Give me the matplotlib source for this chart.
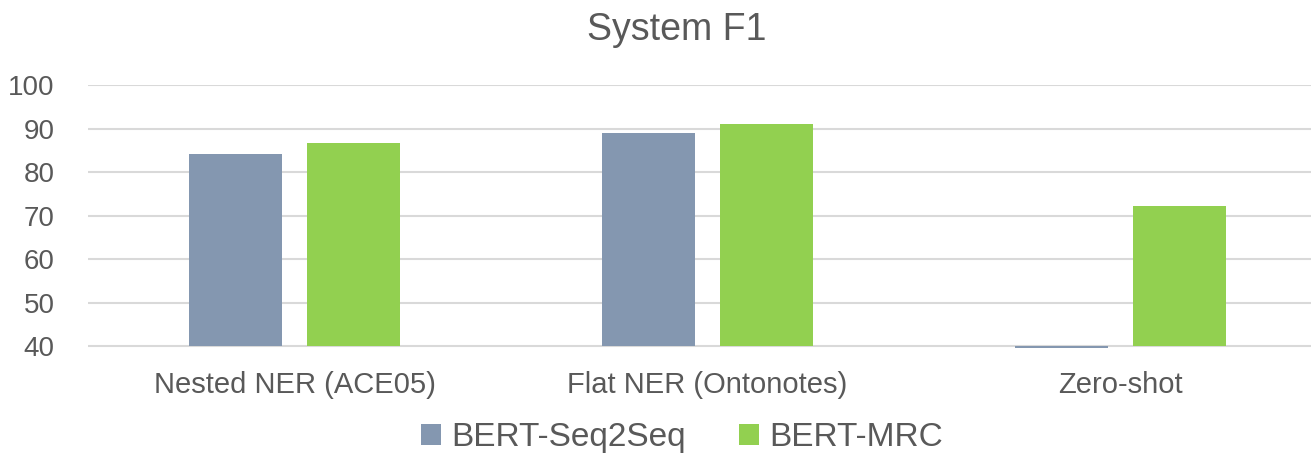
import numpy as np
import matplotlib
matplotlib.use("Agg")
import matplotlib.pyplot as plt

plt.rcParams['font.family'] = ['Liberation Sans', 'DejaVu Sans']

categories = ["Nested NER (ACE05)", "Flat NER (Ontonotes)", "Zero-shot"]
seq2seq = [84.2, 89.1, 39.6]
mrc = [86.7, 91.0, 72.2]
series_names = ["BERT-Seq2Seq", "BERT-MRC"]
yticks = [40, 50, 60, 70, 80, 90, 100]

c_seq = "#8497B0"
c_mrc = "#92D050"
base = 40

fig = plt.figure(figsize=(13.11, 4.58), dpi=100)
ax = fig.add_axes([0.0671, 0.238, 0.9329, 0.576])

x = np.arange(len(categories))
w = 0.225
off = 0.143
ax.bar(x - off, np.array(seq2seq) - base, w, bottom=base, color=c_seq, label=series_names[0], zorder=3)
ax.bar(x + off, np.array(mrc) - base, w, bottom=base, color=c_mrc, label=series_names[1], zorder=3)

ax.set_ylim(39.4, 100)
ax.set_xlim(-0.5, 2.461)
ax.set_yticks(yticks)
ax.yaxis.grid(True, color="#D9D9D9", linewidth=1.5, zorder=0)
for s in ax.spines.values():
    s.set_visible(False)
ax.tick_params(axis='both', length=0, colors="#595959")
ax.tick_params(axis='y', pad=24, labelsize=20)
ax.tick_params(axis='x', pad=16, labelsize=21)
ax.set_xticks(x)
ax.set_xticklabels(categories)

fig.text(0.516, 0.935, "System F1", ha='center', va='center', fontsize=27, color="#595959")

fig.legend(loc='center', bbox_to_anchor=(0.52, 0.045), ncol=2, frameon=False,
           fontsize=24, labelcolor="#595959", handlelength=0.6, handleheight=0.6,
           handletextpad=0.3, columnspacing=1.6, borderpad=0.1)

fig.savefig("out.png", dpi=100)
